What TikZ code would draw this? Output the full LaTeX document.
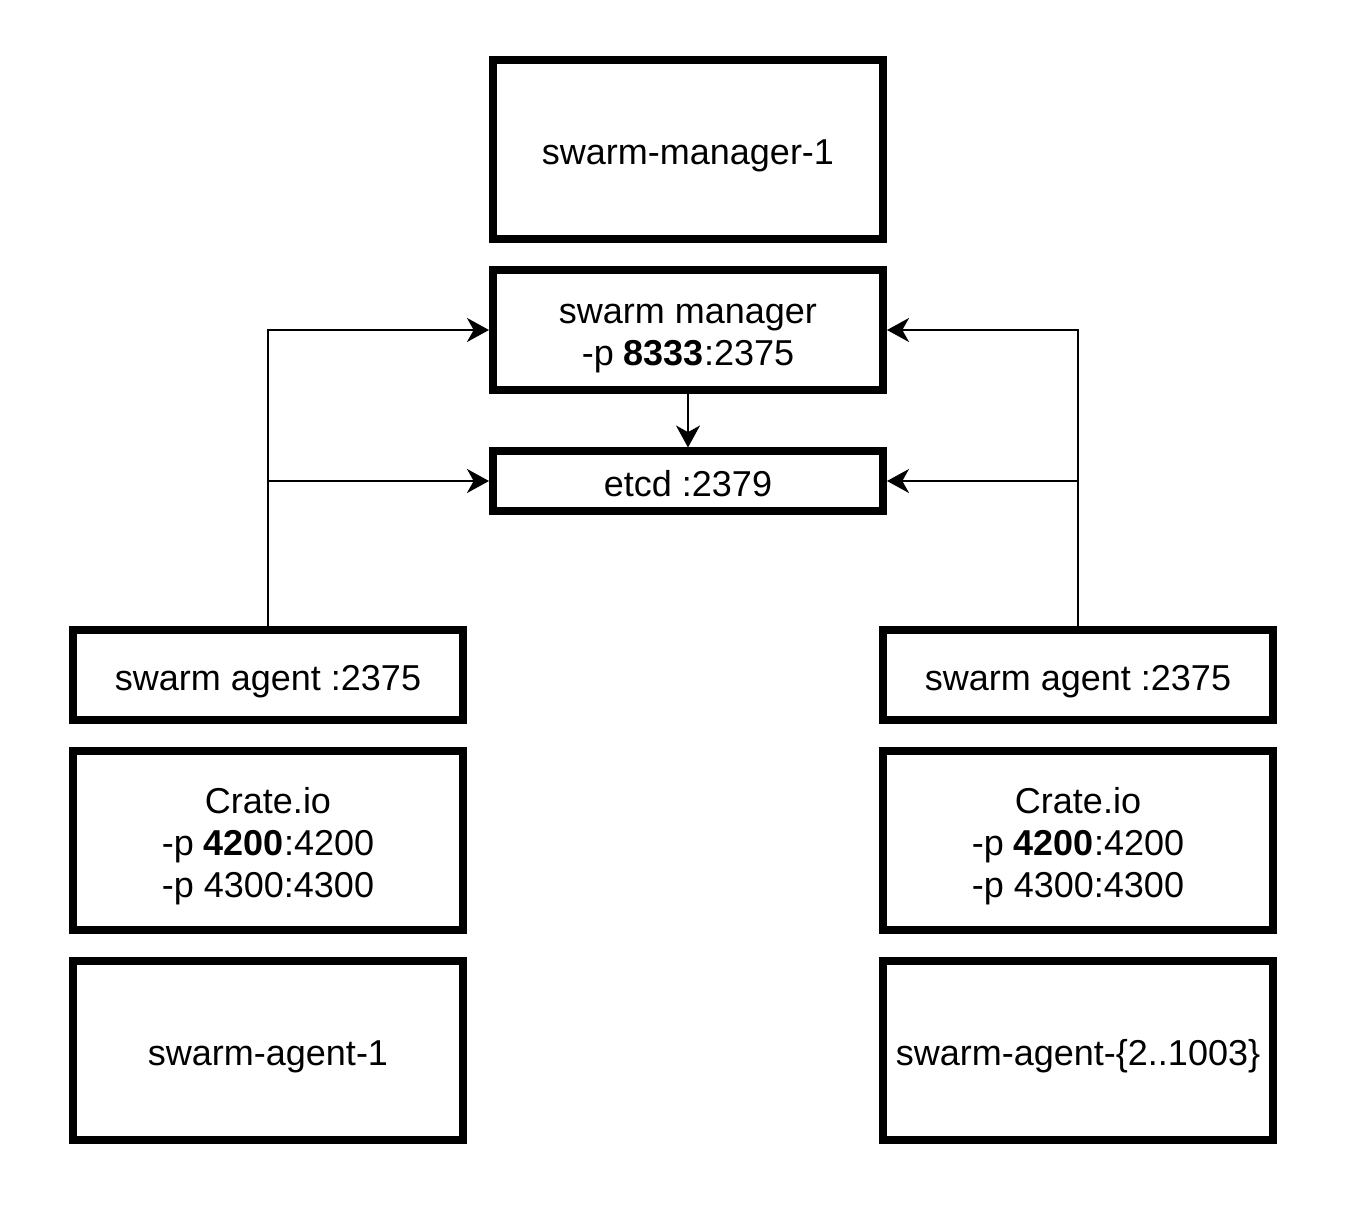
\documentclass[tikz,border=0pt]{standalone}
\usepackage{fontspec}
\setmainfont{Liberation Sans}
\usetikzlibrary{arrows.meta}
\newcommand{\mytopstrut}{\rule{0pt}{28.5pt}}
\newcommand{\mybotstrut}{\rule[-6pt]{0pt}{6pt}}
\begin{document}
\begin{tikzpicture}[x=0.75pt,y=-0.75pt,
  boxbase/.style={draw=black, line width=6pt, fill=white, align=center, inner sep=0pt,
    minimum width=390*0.75pt, font=\fontsize{27}{31.5}\selectfont},
  box/.style={boxbase, text height=28.5pt, text depth=6pt},
  mbox/.style={boxbase},
  conn/.style={line width=1.5pt, -{Stealth[length=16.5pt,width=18pt,inset=5pt]}}]
\useasboundingbox (0,0) rectangle (1364,1212);
\node[box, minimum height=179*0.75pt] (m1) at (688,150) {swarm-manager-1};
\node[mbox, minimum height=120*0.75pt] (mgr) at (688,330) {\mytopstrut swarm manager\\-p \textbf{8333}:2375\mybotstrut};
\node[box, minimum height=59*0.75pt] (etcd) at (688,481) {etcd :2379};
\node[box, minimum height=90*0.75pt] (agL) at (268,675) {swarm agent :2375};
\node[mbox, minimum height=179*0.75pt] (crL) at (268,840) {\mytopstrut Crate.io\\-p \textbf{4200}:4200\\-p 4300:4300\mybotstrut};
\node[box, minimum height=179*0.75pt] (a1) at (268,1050) {swarm-agent-1};
\node[box, minimum height=90*0.75pt] (agR) at (1078,675) {swarm agent :2375};
\node[mbox, minimum height=179*0.75pt] (crR) at (1078,840) {\mytopstrut Crate.io\\-p \textbf{4200}:4200\\-p 4300:4300\mybotstrut};
\node[box, minimum height=179*0.75pt] (aR) at (1078,1050) {swarm-agent-\{2..1003\}};
\coordinate (jL) at (agL.north |- etcd.west);
\coordinate (jR) at (agR.north |- etcd.east);
\draw[conn] (agL.north) |- (mgr.west);
\draw[conn] (jL) -- (etcd.west);
\draw[conn] (agR.north) |- (mgr.east);
\draw[conn] (jR) -- (etcd.east);
\draw[conn] (mgr.south) -- (etcd.north);
\end{tikzpicture}
\end{document}
